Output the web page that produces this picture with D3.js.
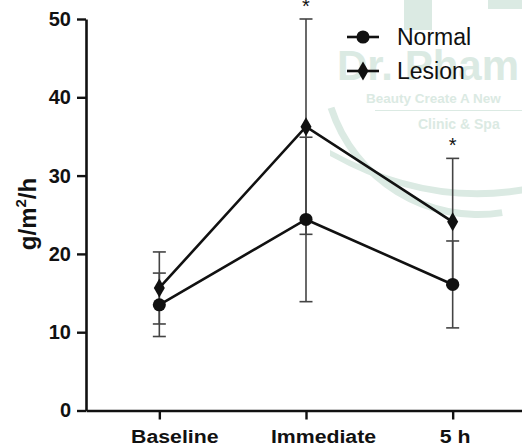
<!DOCTYPE html>
<html>
<head>
<meta charset="utf-8">
<script src="https://cdnjs.cloudflare.com/ajax/libs/d3/7.8.5/d3.min.js"></script>
<style>
  body { margin: 0; background: #fff; }
  text { font-family: "Liberation Sans", Arial, sans-serif; }
</style>
</head>
<body>
<div id="chart"></div>
<script>
// values
var categories = ["Baseline", "Immediate", "5 h"];
var normalMean = [13.5, 24.4, 16.1];
var normalErr = [4.05, 10.5, 5.55];
var lesionMean = [15.65, 36.25, 24.1];
var lesionErr = [4.6, 13.75, 8.1];
var stars = ["", "*", "*"];
var yTicks = [0, 10, 20, 30, 40, 50];

var width = 522, height = 448;
var margin = {top: 19, right: -4, bottom: 37.5, left: 86};
// the category labels sit a little right of their ticks in the original
var labelShift = {"Baseline": 15, "Immediate": 17, "5 h": 2};

var svg = d3.select("#chart")
    .append("svg")
    .attr("width", width)
    .attr("height", height);

// faint watermark in the background
var wm = svg.append("g").attr("fill", "#dbeae3").attr("stroke", "none");
wm.append("rect").attr("x", 404).attr("y", 0).attr("width", 28).attr("height", 30);
wm.append("rect").attr("x", 488).attr("y", 0).attr("width", 34).attr("height", 9);
wm.append("path")
    .attr("d", d3.arc()({innerRadius: 151, outerRadius: 158, startAngle: -Math.PI * 0.6, endAngle: -Math.PI * 1.05}))
    .attr("transform", "translate(478,60)");
wm.append("path")
    .attr("d", "M330,150 Q430,205 530,185 L530,192 Q430,212 330,156 Z");
wm.append("text").attr("x", 337).attr("y", 80).attr("font-size", 42).attr("font-weight", "bold").text("Dr. Pham");
wm.append("text").attr("x", 366).attr("y", 103).attr("font-size", 13.5).attr("font-weight", "bold").text("Beauty Create A New");
wm.append("rect").attr("x", 375).attr("y", 110).attr("width", 150).attr("height", 1);
wm.append("text").attr("x", 418).attr("y", 129).attr("font-size", 14).attr("font-weight", "bold").text("Clinic & Spa");

var g = svg.append("g")
    .attr("transform", "translate(" + margin.left + "," + margin.top + ")");

var w = width - margin.left - margin.right,
    h = height - margin.top - margin.bottom;

var x = d3.scalePoint()
    .domain(categories)
    .range([0, w])
    .padding(0.5);

var y = d3.scaleLinear()
    .domain([0, 50])
    .range([h, 0]);

// axes
var yAxis = g.append("g")
    .call(d3.axisLeft(y).tickValues(yTicks).tickSize(9).tickSizeOuter(0).tickPadding(6));
var xAxis = g.append("g")
    .attr("transform", "translate(0," + h + ")")
    .call(d3.axisBottom(x).tickSize(9).tickSizeOuter(0).tickPadding(10));

[yAxis, xAxis].forEach(function (a) {
    a.select(".domain").attr("stroke", "#111").attr("stroke-width", 2.6);
    a.selectAll(".tick line").attr("stroke", "#111").attr("stroke-width", 2.4);
    a.selectAll(".tick text")
        .attr("fill", "#111")
        .style("font-family", "'Liberation Sans', Arial, sans-serif")
        .style("font-weight", "bold")
        .style("font-size", "20px");
});

// x labels are a bit wider than tall in the original
xAxis.selectAll(".tick text")
    .style("font-size", "19px")
    .attr("dx", function (d) { return labelShift[d] / 1.12; })
    .attr("transform", "scale(1.12,1)");

// y axis title
svg.append("text")
    .attr("transform", "translate(36,214) rotate(-90)")
    .attr("text-anchor", "middle")
    .attr("font-size", 24)
    .attr("font-weight", "bold")
    .attr("fill", "#111")
    .html('g/m<tspan font-size="15" dy="-10">2</tspan><tspan dy="10">/h</tspan>');

var series = [
    {name: "Normal", mean: normalMean, err: normalErr, shape: d3.symbolCircle},
    {name: "Lesion", mean: lesionMean, err: lesionErr, shape: d3.symbolDiamond}
];

function errorBars(s) {
    var eg = g.append("g").attr("stroke", "#444").attr("stroke-width", 1.6);
    categories.forEach(function (c, i) {
        var lo = y(s.mean[i] - s.err[i]), hi = y(s.mean[i] + s.err[i]);
        eg.append("line").attr("x1", x(c)).attr("x2", x(c)).attr("y1", lo).attr("y2", hi);
        eg.append("line").attr("x1", x(c) - 6.5).attr("x2", x(c) + 6.5).attr("y1", lo).attr("y2", lo);
        eg.append("line").attr("x1", x(c) - 6.5).attr("x2", x(c) + 6.5).attr("y1", hi).attr("y2", hi);
    });
}

series.forEach(errorBars);

var line = d3.line()
    .x(function (d, i) { return x(categories[i]); })
    .y(function (d) { return y(d); });

series.forEach(function (s) {
    g.append("path")
        .datum(s.mean)
        .attr("fill", "none")
        .attr("stroke", "#111")
        .attr("stroke-width", 2.6)
        .attr("d", line);
});

series.forEach(function (s) {
    g.selectAll(null)
        .data(s.mean)
        .enter()
        .append("path")
        .attr("transform", function (d, i) { return "translate(" + x(categories[i]) + "," + y(d) + ")"; })
        .attr("d", d3.symbol().type(s.shape).size(s.shape === d3.symbolCircle ? 135 : 105))
        .attr("fill", "#111");
});

// significance stars above the Lesion bars
g.selectAll(".star")
    .data(stars)
    .enter()
    .append("text")
    .attr("class", "star")
    .attr("x", function (d, i) { return x(categories[i]); })
    .attr("y", function (d, i) { return y(lesionMean[i] + lesionErr[i]) - 6; })
    .attr("text-anchor", "middle")
    .attr("font-size", 20)
    .attr("fill", "#111")
    .text(function (d) { return d; });

// legend
var legend = svg.append("g").attr("transform", "translate(347,37)");
series.forEach(function (s, i) {
    var row = legend.append("g").attr("transform", "translate(0," + (i * 34) + ")");
    row.append("line").attr("x1", 0).attr("x2", 32).attr("stroke", "#111").attr("stroke-width", 2.6);
    row.append("path")
        .attr("transform", "translate(16,0)")
        .attr("d", d3.symbol().type(s.shape).size(s.shape === d3.symbolCircle ? 135 : 105))
        .attr("fill", "#111");
    row.append("text")
        .attr("x", 50)
        .attr("y", 8)
        .attr("font-size", 23)
        .attr("fill", "#111")
        .text(s.name);
});
</script>
</body>
</html>
